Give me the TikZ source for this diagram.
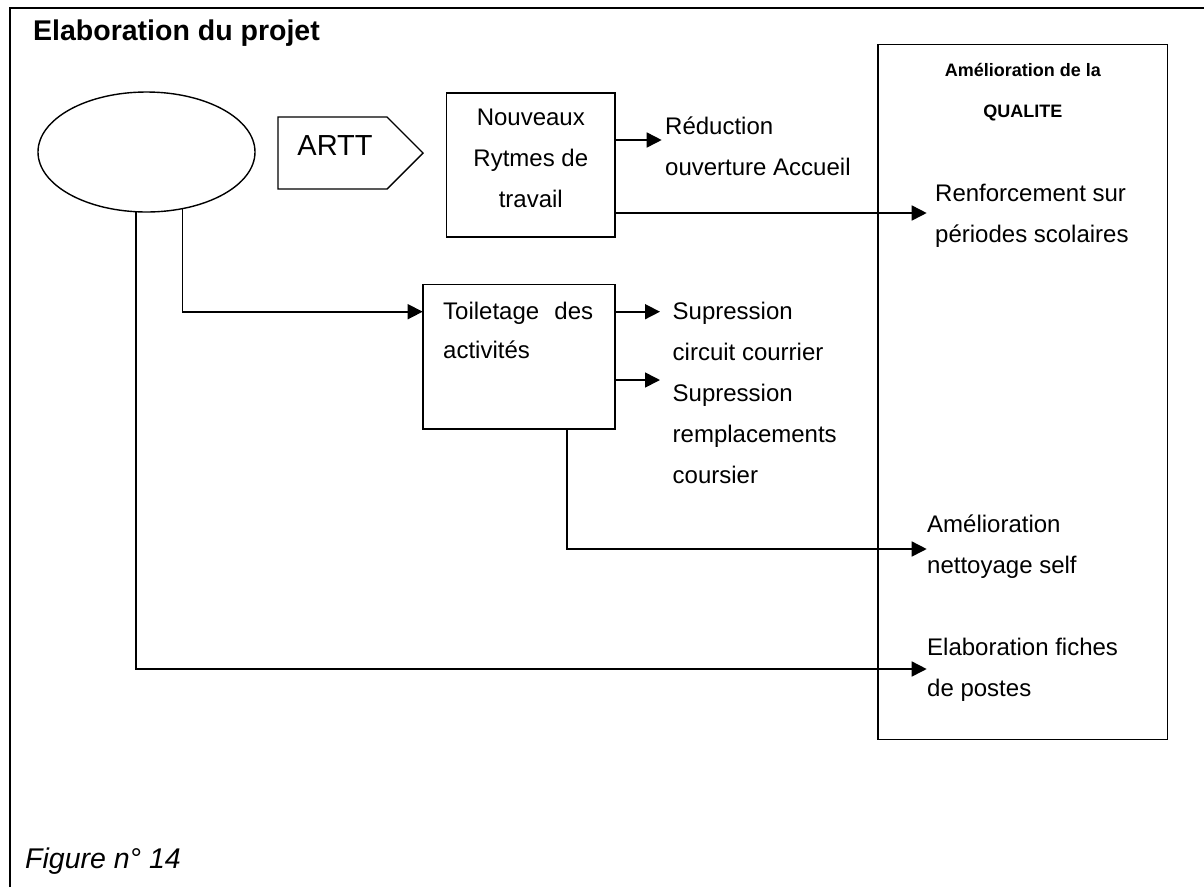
\documentclass[tikz,border=0pt]{standalone}
\usepackage{fontspec}
\setmainfont{Liberation Sans}
\usetikzlibrary{shapes.geometric,arrows.meta}
\begin{document}
\begin{tikzpicture}[x=1pt,y=-1pt,
  conn/.style={line width=1.6pt,-{Triangle[length=15pt,width=15pt]}},
  boxnode/.style={draw,line width=1.6pt,inner sep=0pt},
  % multi-line texts are anchored on the baseline of their last line
  txt/.style={inner sep=0pt,font=\fontsize{24}{41}\selectfont,align=left,anchor=base west},
  qtitle/.style={inner sep=0pt,font=\bfseries\fontsize{18}{41}\selectfont,align=center,anchor=base},
]
\useasboundingbox (0,0) rectangle (1204,887);

% open frame: top and left edges only
\draw[line width=2pt] (10,887) -- (10,8) -- (1204,8);

% headings
\node[inner sep=0pt,anchor=base west,font=\bfseries\fontsize{28.5}{32}\selectfont] (title) at (33,40) {Elaboration du projet};
\node[inner sep=0pt,anchor=base west,font=\itshape\fontsize{28.5}{32}\selectfont] (caption) at (25,868) {Figure n° 14};

% empty ellipse
\node[draw,ellipse,line width=1.4pt,minimum width=217pt,minimum height=120pt,inner sep=0pt] (el) at (146.5,152) {};

% ARTT pentagon
\draw[line width=1.4pt] (278,117) -- (387,117) -- (423,153) -- (387,189) -- (278,189) -- cycle;
\node[inner sep=0pt,anchor=base,font=\fontsize{29}{32}\selectfont] (artt) at (335,155) {ARTT};

% boxes
\node[boxnode,minimum width=168.3pt,minimum height=144pt] (nouv) at (530.8,164.7) {};
\node[txt,align=center,anchor=base] (nouvtxt) at (530.8,207) {Nouveaux\\Rytmes de\\travail};

\node[boxnode,minimum width=192.3pt,minimum height=144.7pt] (toil) at (518.9,356.7) {};
\node[txt,font=\fontsize{24}{39}\selectfont] (toiltxt) at (443,358) {\makebox[150pt][s]{Toiletage des}\\activités};

\node[boxnode,minimum width=289.7pt,minimum height=695pt] (qual) at (1022.8,392) {};
\node[qtitle] (qualtxt) at (1022.8,117) {Amélioration de la\\QUALITE};

% outcome texts
\node[txt] (reduc) at (665,175) {Réduction\\ouverture Accueil};
\node[txt] (renf) at (935,242) {Renforcement sur\\périodes scolaires};
\node[txt] (supr) at (672.5,483) {Supression\\circuit courrier\\Supression\\remplacements\\coursier};
\node[txt] (nett) at (927,573) {Amélioration\\nettoyage self};
\node[txt] (fiche) at (927,696) {Elaboration fiches\\de postes};

% arrow targets
\coordinate (reducIn) at (661.7,140);
\coordinate (renfIn) at (926.7,213);
\coordinate (toilIn) at (422.7,311.7);
\coordinate (suprIn1) at (660,311.7);
\coordinate (suprIn2) at (660,380);
\coordinate (nettIn) at (926.7,549);
\coordinate (ficheIn) at (926.7,669);

% connectors
\draw[conn] (nouv.east |- reducIn) -- (reducIn);
\draw[conn] (nouv.east |- renfIn) -- (renfIn);
\draw[conn] (el.-58.1) |- (toilIn);
\draw[conn] (toil.east |- suprIn1) -- (suprIn1);
\draw[conn] (toil.east |- suprIn2) -- (suprIn2);
\draw[conn] ([xshift=47.8pt]toil.south) |- (nettIn);
\draw[conn] (el.-100.9) |- (ficheIn);
\end{tikzpicture}
\end{document}
